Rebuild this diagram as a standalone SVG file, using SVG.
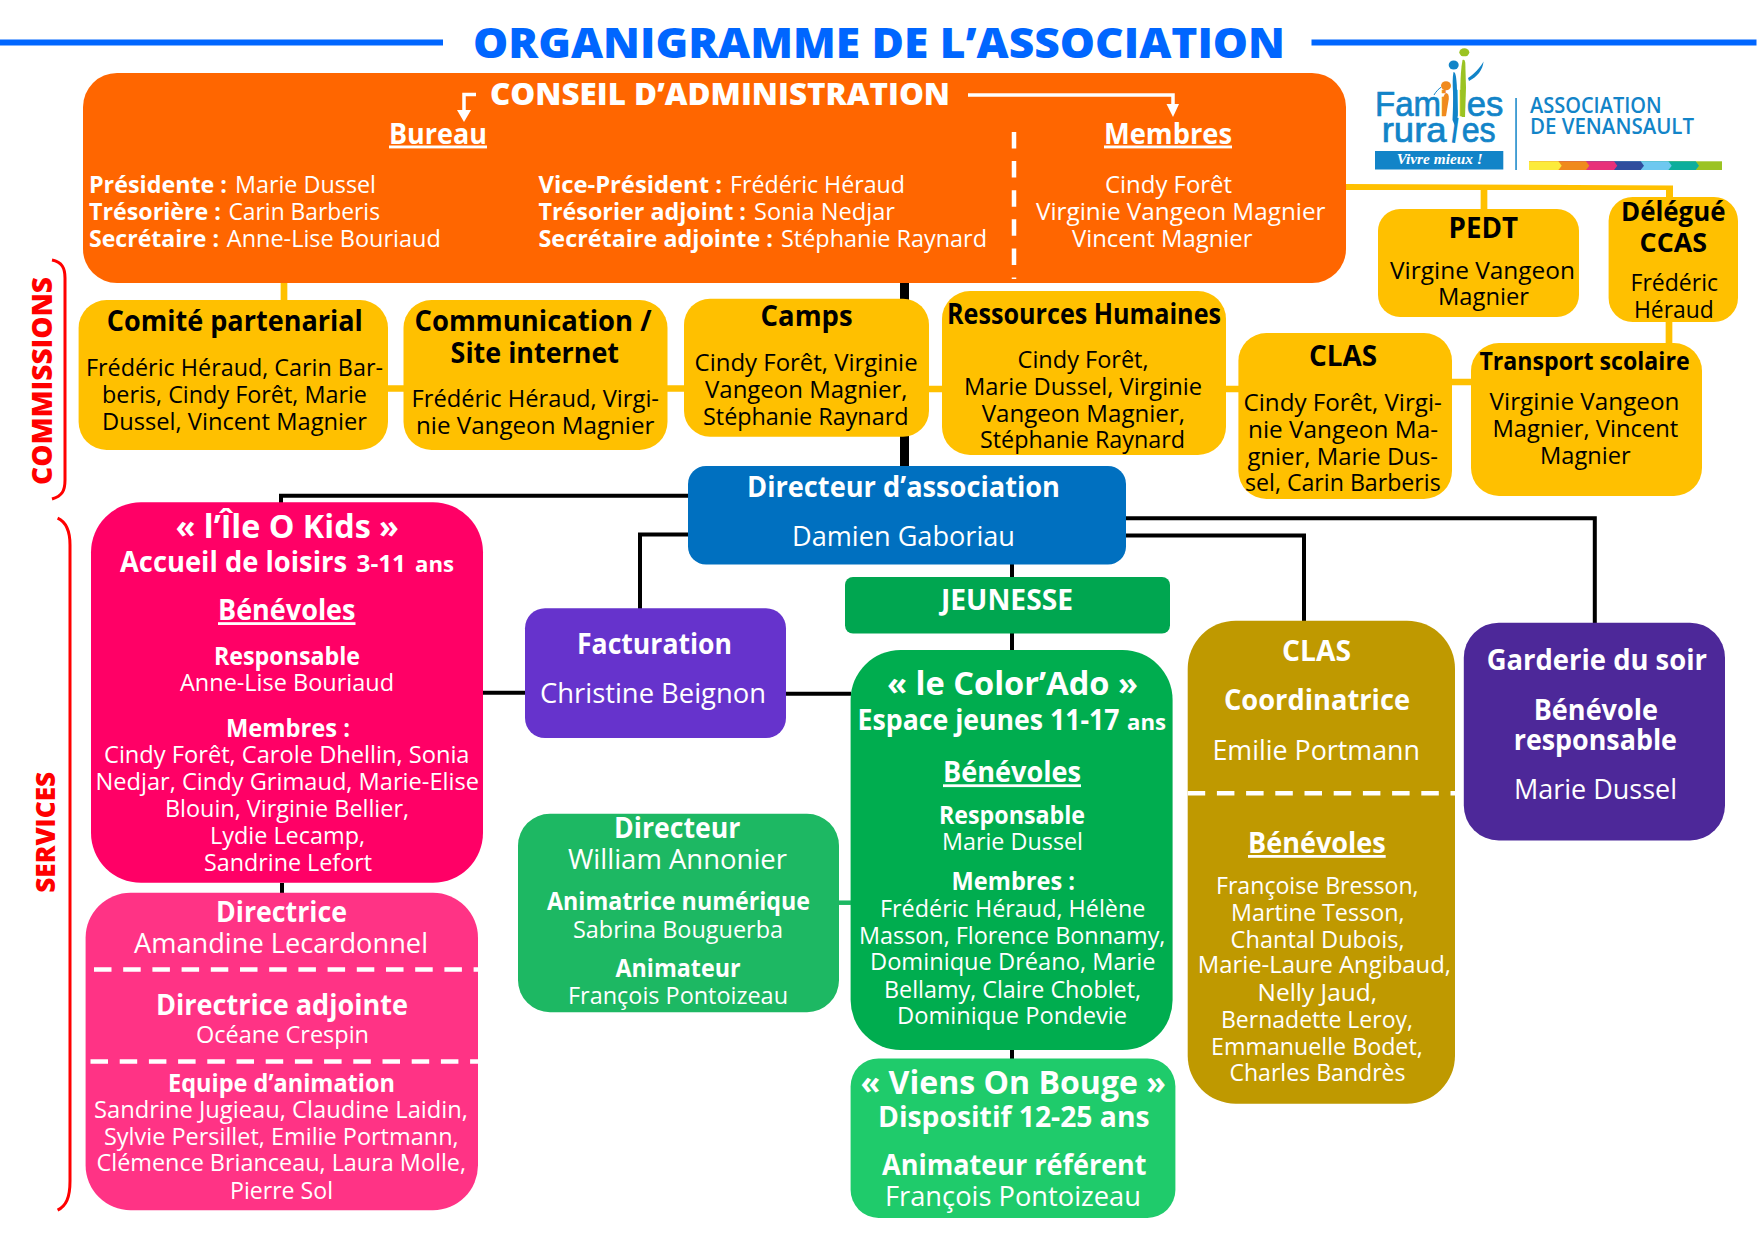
<svg xmlns="http://www.w3.org/2000/svg" width="1761" height="1240" viewBox="0 0 1761 1240">
<defs>
<style>
text{font-family:"Open Sans","Noto Sans",sans-serif;font-size:24px;font-weight:400;fill:#fff}
.b{font-weight:700}
.k text{fill:#000}
.t{font-size:28px}
.m{font-size:29px}
.s{font-size:25px}
.l{font-size:27px}
.u{text-decoration:underline}
.logo{font-family:"Liberation Sans",sans-serif;font-size:35px;font-weight:400;fill:#1284c8;stroke:#1284c8;stroke-width:.7}
.y{fill:none;stroke:#ffc000;stroke-width:6.7}
.n{fill:none;stroke:#000;stroke-width:4}
.wd{fill:none;stroke:#fff;stroke-width:4.5;stroke-dasharray:17.5 11.7}
.red{fill:none;stroke:#f00;stroke-width:3}
.ar{fill:none;stroke:#fff;stroke-width:3.5}
</style>
</defs>
<rect width="1761" height="1240" fill="#fff"/>
<g id="title">
<rect x="0" y="39.5" width="443" height="6" fill="#0066ff"/>
<rect x="1311.5" y="39.5" width="445" height="6" fill="#0066ff"/>
<text x="473" y="57.5" textLength="812" lengthAdjust="spacingAndGlyphs" style="font-size:42px;font-weight:800;fill:#0066ff">ORGANIGRAMME DE L’ASSOCIATION</text>
</g>
<g id="connectors">
<path class="y" d="M284 283V300M388 388.5H404M667 388.5H685M929 389H942M1226 389H1239M1452 382H1471M1669 322V343M1484 188V209"/>
<path d="M1346 184L1673 185.5V197H1666V190L1346 190Z" fill="#ffc000"/>
<path d="M904.5 283V466" class="n" style="stroke-width:9"/>
<path class="n" d="M688 495.8H281V503M688 534.6H640V609M483 692.8H525M786 693.8H851M282 883V893M1012 564V578M1012 633V651M1012 1050V1059M1126 518.2H1594.8V623M1126 535.6H1304V621"/>
<path d="M839 902.7H851" fill="none" stroke="#1db863" stroke-width="4.5"/>
</g>
<g id="commissions-label">
<text transform="translate(51.7 485) rotate(-90)" textLength="208" lengthAdjust="spacingAndGlyphs" style="font-size:28px;font-weight:800;fill:#f00">COMMISSIONS</text>
<path class="red" d="M52 260C62 262 65 268 65 278V480C65 491 62 496 52 499"/>
</g>
<g id="services-label">
<text transform="translate(54.5 892.8) rotate(-90)" textLength="121" lengthAdjust="spacingAndGlyphs" style="font-size:27px;font-weight:800;fill:#f00">SERVICES</text>
<path class="red" d="M57.6 518.2C66 522 70 530 70 545V1181C70 1198 66 1206 57.6 1210.2"/>
</g>
<g id="logo">
<text y="115.7"><tspan class="logo" x="1375" textLength="66" lengthAdjust="spacingAndGlyphs">Fam</tspan><tspan class="logo" x="1440" style="fill:#f08a1d;stroke:#f08a1d">i</tspan><tspan class="logo" x="1451.5">l</tspan><tspan class="logo" x="1458" style="fill:#9bc322;stroke:#9bc322">l</tspan><tspan class="logo" x="1466.7" textLength="36.6" lengthAdjust="spacingAndGlyphs">es</tspan></text>
<text y="142.3"><tspan class="logo" x="1381.7" textLength="65" lengthAdjust="spacingAndGlyphs">rura</tspan><tspan class="logo" x="1449.5" rotate="8" style="stroke-width:0">l</tspan><tspan class="logo" x="1461.7" textLength="34" lengthAdjust="spacingAndGlyphs">es</tspan></text>
<ellipse cx="1464.3" cy="52.3" rx="5" ry="4" fill="#9bc322"/>
<path d="M1462.5 60C1464 59 1465 60 1465.3 63L1466 88L1465 117L1461.7 117L1460.3 88C1460.5 78 1461 68 1462.5 60Z" fill="#9bc322"/>
<ellipse cx="1453.7" cy="65" rx="5" ry="4.5" fill="#1284c8"/>
<path d="M1453.5 72C1455.5 72 1456.3 76 1456.8 85L1457.8 112C1457.8 120 1456.5 124 1455 126L1452.5 120C1453 110 1453.3 100 1453 92C1452.6 84 1452.4 78 1453.5 72Z" fill="#1284c8"/>
<path d="M1483.5 61.5C1483 70 1477 77 1469 81L1468 78C1474 74 1480 68 1483.5 61.5Z" fill="#1284c8"/>
<ellipse cx="1446" cy="85.7" rx="5" ry="4.5" fill="#f08a1d"/>
<path d="M1446 93C1448 93 1449 95 1448.8 99L1446 116H1442.2L1442.6 103C1443 98 1444 94 1446 93Z" fill="#f08a1d"/>
<path d="M1434 95C1436 91.5 1438.5 89 1441 87.3" stroke="#1284c8" stroke-width="1" fill="none"/>
<rect x="1375" y="151" width="128.3" height="18.5" fill="#1284c8"/>
<text x="1396.7" y="164.3" textLength="86" lengthAdjust="spacingAndGlyphs" style="font-family:'Liberation Serif',serif;font-style:italic;font-weight:700;font-size:15px">Vivre mieux !</text>
<rect x="1515.3" y="98" width="1.5" height="72" fill="#1284c8"/>
<text x="1530" y="113.3" textLength="131.7" lengthAdjust="spacingAndGlyphs" style="font-size:21.5px;font-weight:600;fill:#1284c8">ASSOCIATION</text>
<text x="1530" y="134" textLength="164" lengthAdjust="spacingAndGlyphs" style="font-size:21.5px;font-weight:600;fill:#1284c8">DE VENANSAULT</text>
<rect x="1529" y="161.3" width="193" height="8.7" fill="#9bc322"/>
<path d="M1529 161.3H1695.7L1699 165.7L1695.7 170H1529Z" fill="#0cae9c"/>
<path d="M1529 161.3H1668.4L1671.7 165.7L1668.4 170H1529Z" fill="#6ec8f0"/>
<path d="M1529 161.3H1640.7L1644 165.7L1640.7 170H1529Z" fill="#2f4d9e"/>
<path d="M1529 161.3H1614L1617.3 165.7L1614 170H1529Z" fill="#e8307a"/>
<path d="M1529 161.3H1586L1589.3 165.7L1586 170H1529Z" fill="#f08a1d"/>
<path d="M1529 161.3H1558.4L1561.7 165.7L1558.4 170H1529Z" fill="#fceb3b"/>
</g>
<g id="conseil">
<rect x="83" y="73" width="1263" height="210" rx="34" fill="#ff6600"/>
<text x="490" y="105" textLength="460" lengthAdjust="spacingAndGlyphs" style="font-size:30px;font-weight:800">CONSEIL D’ADMINISTRATION</text>
<path class="ar" d="M476 94.5H464V110"/>
<path d="M457 110H471L464 122Z" fill="#fff"/>
<path class="ar" d="M968 95H1173V104"/>
<path d="M1166.5 104H1179L1173 117Z" fill="#fff"/>
<text class="b m u" x="389" y="143.5" textLength="98" lengthAdjust="spacingAndGlyphs">Bureau</text>
<text class="b m u" x="1104" y="143.5" textLength="128" lengthAdjust="spacingAndGlyphs">Membres</text>
<path class="wd" d="M1014 132V279" style="stroke-dasharray:16.5 12.6"/>
<text y="192.7"><tspan class="b" x="89" textLength="138" lengthAdjust="spacingAndGlyphs">Présidente :</tspan><tspan x="235" textLength="141" lengthAdjust="spacingAndGlyphs">Marie Dussel</tspan></text>
<text y="220"><tspan class="b" x="89" textLength="132" lengthAdjust="spacingAndGlyphs">Trésorière :</tspan><tspan x="228.5" textLength="151.5" lengthAdjust="spacingAndGlyphs">Carin Barberis</tspan></text>
<text y="246.7"><tspan class="b" x="89" textLength="130" lengthAdjust="spacingAndGlyphs">Secrétaire :</tspan><tspan x="226.8" textLength="214" lengthAdjust="spacingAndGlyphs">Anne-Lise Bouriaud</tspan></text>
<text y="192.7"><tspan class="b" x="538.5" textLength="183.5" lengthAdjust="spacingAndGlyphs">Vice-Président :</tspan><tspan x="730" textLength="175" lengthAdjust="spacingAndGlyphs">Frédéric Héraud</tspan></text>
<text y="220"><tspan class="b" x="538.5" textLength="207.5" lengthAdjust="spacingAndGlyphs">Trésorier adjoint :</tspan><tspan x="754" textLength="141" lengthAdjust="spacingAndGlyphs">Sonia Nedjar</tspan></text>
<text y="246.7"><tspan class="b" x="538.5" textLength="234.5" lengthAdjust="spacingAndGlyphs">Secrétaire adjointe :</tspan><tspan x="781" textLength="206" lengthAdjust="spacingAndGlyphs">Stéphanie Raynard</tspan></text>
<text x="1105" y="192.7" textLength="127" lengthAdjust="spacingAndGlyphs">Cindy Forêt</text>
<text x="1036" y="220" textLength="289.5" lengthAdjust="spacingAndGlyphs">Virginie Vangeon Magnier</text>
<text x="1072" y="246.7" textLength="180.5" lengthAdjust="spacingAndGlyphs">Vincent Magnier</text>
</g>
<g id="comite" class="k">
<rect x="78.6" y="300" width="309.4" height="150" rx="28" fill="#ffc000"/>
<text class="b t" x="106.8" y="331" textLength="256" lengthAdjust="spacingAndGlyphs">Comité partenarial</text>
<text x="86" y="375.7" textLength="297" lengthAdjust="spacingAndGlyphs">Frédéric Héraud, Carin Bar-</text>
<text x="102" y="402.7" textLength="265" lengthAdjust="spacingAndGlyphs">beris, Cindy Forêt, Marie</text>
<text x="102" y="430" textLength="265" lengthAdjust="spacingAndGlyphs">Dussel, Vincent Magnier</text>
</g>
<g id="communication" class="k">
<rect x="403.5" y="300" width="264" height="150" rx="28" fill="#ffc000"/>
<text class="b t" x="414.5" y="331" textLength="237" lengthAdjust="spacingAndGlyphs">Communication /</text>
<text class="b t" x="450.6" y="362.5" textLength="168.4" lengthAdjust="spacingAndGlyphs">Site internet</text>
<text x="411.6" y="406.7" textLength="247.4" lengthAdjust="spacingAndGlyphs">Frédéric Héraud, Virgi-</text>
<text x="416" y="434" textLength="238.4" lengthAdjust="spacingAndGlyphs">nie Vangeon Magnier</text>
</g>
<g id="camps" class="k">
<rect x="684" y="298.7" width="245" height="138" rx="26" fill="#ffc000"/>
<text class="b t" x="760.6" y="326" textLength="92" lengthAdjust="spacingAndGlyphs">Camps</text>
<text x="694.6" y="371" textLength="223" lengthAdjust="spacingAndGlyphs">Cindy Forêt, Virginie</text>
<text x="705" y="398" textLength="202.4" lengthAdjust="spacingAndGlyphs">Vangeon Magnier,</text>
<text x="703" y="425" textLength="205.5" lengthAdjust="spacingAndGlyphs">Stéphanie Raynard</text>
</g>
<g id="rh" class="k">
<rect x="942" y="291" width="284" height="164" rx="28" fill="#ffc000"/>
<text class="b t" x="947" y="323.7" textLength="274" lengthAdjust="spacingAndGlyphs">Ressources Humaines</text>
<text x="1017.6" y="367.7" textLength="131" lengthAdjust="spacingAndGlyphs">Cindy Forêt,</text>
<text x="964" y="395" textLength="238" lengthAdjust="spacingAndGlyphs">Marie Dussel, Virginie</text>
<text x="981.7" y="421.7" textLength="203.3" lengthAdjust="spacingAndGlyphs">Vangeon Magnier,</text>
<text x="980" y="448" textLength="205" lengthAdjust="spacingAndGlyphs">Stéphanie Raynard</text>
</g>
<g id="clas-commission" class="k">
<rect x="1238.4" y="333" width="213.6" height="166" rx="28" fill="#ffc000"/>
<text class="b t" x="1309" y="366" textLength="68" lengthAdjust="spacingAndGlyphs">CLAS</text>
<text x="1243.5" y="411" textLength="198.3" lengthAdjust="spacingAndGlyphs">Cindy Forêt, Virgi-</text>
<text x="1248" y="438" textLength="190" lengthAdjust="spacingAndGlyphs">nie Vangeon Ma-</text>
<text x="1247.4" y="465" textLength="190.6" lengthAdjust="spacingAndGlyphs">gnier, Marie Dus-</text>
<text x="1245" y="491" textLength="195.7" lengthAdjust="spacingAndGlyphs">sel, Carin Barberis</text>
</g>
<g id="transport" class="k">
<rect x="1471" y="343" width="231" height="153" rx="28" fill="#ffc000"/>
<text class="b s" x="1479.4" y="370" textLength="210.2" lengthAdjust="spacingAndGlyphs">Transport scolaire</text>
<text x="1489.6" y="410" textLength="189.8" lengthAdjust="spacingAndGlyphs">Virginie Vangeon</text>
<text x="1492.4" y="436.7" textLength="185.9" lengthAdjust="spacingAndGlyphs">Magnier, Vincent</text>
<text x="1540" y="464" textLength="90.6" lengthAdjust="spacingAndGlyphs">Magnier</text>
</g>
<g id="pedt" class="k">
<rect x="1378" y="209" width="201" height="108" rx="22" fill="#ffc000"/>
<text class="b t" x="1448.5" y="238" textLength="69.5" lengthAdjust="spacingAndGlyphs">PEDT</text>
<text x="1390" y="279.3" textLength="185" lengthAdjust="spacingAndGlyphs">Virgine Vangeon</text>
<text x="1438" y="305" textLength="91" lengthAdjust="spacingAndGlyphs">Magnier</text>
</g>
<g id="ccas" class="k">
<rect x="1608.6" y="197" width="129.4" height="125" rx="24" fill="#ffc000"/>
<text class="b" x="1621" y="221" textLength="104.5" lengthAdjust="spacingAndGlyphs" style="font-size:26px">Délégué</text>
<text class="b" x="1639.6" y="252" textLength="67.4" lengthAdjust="spacingAndGlyphs" style="font-size:26px">CCAS</text>
<text x="1630.6" y="291" textLength="87.4" lengthAdjust="spacingAndGlyphs">Frédéric</text>
<text x="1634" y="317.7" textLength="79.7" lengthAdjust="spacingAndGlyphs">Héraud</text>
</g>
<g id="directeur">
<rect x="688" y="466" width="438" height="98.5" rx="18" fill="#0070c0"/>
<text class="b t" x="747" y="496.5" textLength="313" lengthAdjust="spacingAndGlyphs">Directeur d’association</text>
<text class="l" x="792" y="546" textLength="223" lengthAdjust="spacingAndGlyphs">Damien Gaboriau</text>
</g>
<g id="ile-o-kids">
<rect x="91" y="502.3" width="392" height="380.5" rx="50" fill="#ff0066"/>
<text class="b" x="175.5" y="538.1" textLength="223.5" lengthAdjust="spacingAndGlyphs" style="font-size:32px">« l’Île O Kids »</text>
<text y="571.9"><tspan class="b t" x="120" textLength="227" lengthAdjust="spacingAndGlyphs">Accueil de loisirs</tspan><tspan class="b" x="356.5" textLength="49.5" lengthAdjust="spacingAndGlyphs" style="font-size:24px">3-11</tspan><tspan class="b" x="415" textLength="39" lengthAdjust="spacingAndGlyphs" style="font-size:22px">ans</tspan></text>
<text class="b t u" x="218" y="620.2" textLength="137.5" lengthAdjust="spacingAndGlyphs">Bénévoles</text>
<text class="b s" x="214" y="665.4" textLength="146" lengthAdjust="spacingAndGlyphs">Responsable</text>
<text x="180" y="691.3" textLength="214" lengthAdjust="spacingAndGlyphs">Anne-Lise Bouriaud</text>
<text class="b s" x="226" y="737.1" textLength="124" lengthAdjust="spacingAndGlyphs">Membres :</text>
<text x="104" y="763.4" textLength="365.5" lengthAdjust="spacingAndGlyphs">Cindy Forêt, Carole Dhellin, Sonia</text>
<text x="95.5" y="790.3" textLength="383.5" lengthAdjust="spacingAndGlyphs">Nedjar, Cindy Grimaud, Marie-Elise</text>
<text x="165" y="816.7" textLength="244" lengthAdjust="spacingAndGlyphs">Blouin, Virginie Bellier,</text>
<text x="210" y="844" textLength="155" lengthAdjust="spacingAndGlyphs">Lydie Lecamp,</text>
<text x="204" y="870.9" textLength="168" lengthAdjust="spacingAndGlyphs">Sandrine Lefort</text>
</g>
<g id="equipe-ile">
<rect x="85.6" y="892.8" width="392.4" height="317.4" rx="45" fill="#ff3385"/>
<text class="b t" x="216" y="921.6" textLength="131" lengthAdjust="spacingAndGlyphs">Directrice</text>
<text class="l" x="134" y="952.5" textLength="294" lengthAdjust="spacingAndGlyphs">Amandine Lecardonnel</text>
<path class="wd" d="M94 969.4H478"/>
<text class="b t" x="156" y="1015.2" textLength="252" lengthAdjust="spacingAndGlyphs">Directrice adjointe</text>
<text x="196" y="1043" textLength="173" lengthAdjust="spacingAndGlyphs">Océane Crespin</text>
<path class="wd" d="M90.5 1061.4H478"/>
<text class="b s" x="168" y="1091.8" textLength="227" lengthAdjust="spacingAndGlyphs">Equipe d’animation</text>
<text x="94" y="1118.1" textLength="374" lengthAdjust="spacingAndGlyphs">Sandrine  Jugieau, Claudine Laidin,</text>
<text x="104" y="1145" textLength="354.6" lengthAdjust="spacingAndGlyphs">Sylvie Persillet, Emilie Portmann,</text>
<text x="96.5" y="1171.4" textLength="369.5" lengthAdjust="spacingAndGlyphs">Clémence Brianceau, Laura Molle,</text>
<text x="230" y="1198.7" textLength="103" lengthAdjust="spacingAndGlyphs">Pierre Sol</text>
</g>
<g id="facturation">
<rect x="525" y="608.2" width="261" height="129.9" rx="20" fill="#6633cc"/>
<text class="b t" x="577" y="654" textLength="155" lengthAdjust="spacingAndGlyphs">Facturation</text>
<text class="l" x="540" y="702.8" textLength="226" lengthAdjust="spacingAndGlyphs">Christine Beignon</text>
</g>
<g id="directeur-jeunesse">
<rect x="518" y="813.7" width="321" height="198.5" rx="32" fill="#1db863"/>
<text class="b t" x="614" y="838" textLength="126.5" lengthAdjust="spacingAndGlyphs">Directeur</text>
<text class="l" x="568" y="868.9" textLength="219" lengthAdjust="spacingAndGlyphs">William Annonier</text>
<text class="b s" x="547" y="910.2" textLength="263" lengthAdjust="spacingAndGlyphs">Animatrice numérique</text>
<text x="573" y="937.6" textLength="210" lengthAdjust="spacingAndGlyphs">Sabrina Bouguerba</text>
<text class="b s" x="615.5" y="977.3" textLength="125" lengthAdjust="spacingAndGlyphs">Animateur</text>
<text x="568" y="1003.7" textLength="220" lengthAdjust="spacingAndGlyphs">François Pontoizeau</text>
</g>
<g id="jeunesse">
<rect x="845" y="576.9" width="325" height="56.7" rx="8" fill="#00a650"/>
<text class="b t" x="941" y="610.2" textLength="132" lengthAdjust="spacingAndGlyphs">JEUNESSE</text>
</g>
<g id="color-ado">
<rect x="850.6" y="650" width="322" height="400" rx="50" fill="#00ad4f"/>
<text class="b" x="887" y="695.3" textLength="251" lengthAdjust="spacingAndGlyphs" style="font-size:32px">« le Color’Ado »</text>
<text y="729.6"><tspan class="b t" x="857.6" textLength="262" lengthAdjust="spacingAndGlyphs">Espace jeunes 11-17</tspan><tspan class="b" x="1127" textLength="39" lengthAdjust="spacingAndGlyphs" style="font-size:22px">ans</tspan></text>
<text class="b t u" x="943" y="782.3" textLength="138" lengthAdjust="spacingAndGlyphs">Bénévoles</text>
<text class="b s" x="939" y="824.1" textLength="146" lengthAdjust="spacingAndGlyphs">Responsable</text>
<text x="942" y="849.5" textLength="141" lengthAdjust="spacingAndGlyphs">Marie Dussel</text>
<text class="b s" x="951.6" y="890.3" textLength="123.4" lengthAdjust="spacingAndGlyphs">Membres :</text>
<text x="880" y="916.7" textLength="265.4" lengthAdjust="spacingAndGlyphs">Frédéric Héraud, Hélène</text>
<text x="859" y="944" textLength="306.4" lengthAdjust="spacingAndGlyphs">Masson, Florence Bonnamy,</text>
<text x="870" y="970.4" textLength="285.4" lengthAdjust="spacingAndGlyphs">Dominique Dréano, Marie</text>
<text x="884" y="997.7" textLength="257" lengthAdjust="spacingAndGlyphs">Bellamy, Claire Choblet,</text>
<text x="897" y="1023.6" textLength="230" lengthAdjust="spacingAndGlyphs">Dominique Pondevie</text>
</g>
<g id="viens-on-bouge">
<rect x="850.6" y="1058.4" width="324.8" height="159.5" rx="28" fill="#1fcb6b"/>
<text class="b" x="860.5" y="1094.4" textLength="305.5" lengthAdjust="spacingAndGlyphs" style="font-size:32px">« Viens On Bouge »</text>
<text class="b t" x="878" y="1126.6" textLength="271.5" lengthAdjust="spacingAndGlyphs">Dispositif 12-25 ans</text>
<text class="b t" x="882" y="1175.3" textLength="264.6" lengthAdjust="spacingAndGlyphs">Animateur référent</text>
<text class="l" x="885" y="1206.2" textLength="256" lengthAdjust="spacingAndGlyphs">François Pontoizeau</text>
</g>
<g id="clas-service">
<rect x="1187.7" y="620.7" width="267.3" height="483" rx="48" fill="#bf9900"/>
<text class="b t" x="1282" y="660.7" textLength="69" lengthAdjust="spacingAndGlyphs">CLAS</text>
<text class="b t" x="1224" y="710.2" textLength="186" lengthAdjust="spacingAndGlyphs">Coordinatrice</text>
<text class="l" x="1212.4" y="760" textLength="207.6" lengthAdjust="spacingAndGlyphs">Emilie Portmann</text>
<path class="wd" d="M1187.7 793.3H1455"/>
<text class="b t u" x="1248" y="853" textLength="137.7" lengthAdjust="spacingAndGlyphs">Bénévoles</text>
<text x="1216" y="893.8" textLength="202.6" lengthAdjust="spacingAndGlyphs">Françoise Bresson,</text>
<text x="1231" y="920.6" textLength="173.5" lengthAdjust="spacingAndGlyphs">Martine Tesson,</text>
<text x="1230.6" y="947.5" textLength="173.9" lengthAdjust="spacingAndGlyphs">Chantal Dubois,</text>
<text x="1197.7" y="973.4" textLength="253.3" lengthAdjust="spacingAndGlyphs">Marie-Laure Angibaud,</text>
<text x="1257.6" y="1000.7" textLength="119.4" lengthAdjust="spacingAndGlyphs">Nelly Jaud,</text>
<text x="1221" y="1028.1" textLength="192" lengthAdjust="spacingAndGlyphs">Bernadette Leroy,</text>
<text x="1211" y="1055" textLength="211.7" lengthAdjust="spacingAndGlyphs">Emmanuelle Bodet,</text>
<text x="1229.4" y="1080.8" textLength="176.2" lengthAdjust="spacingAndGlyphs">Charles Bandrès</text>
</g>
<g id="garderie">
<rect x="1463.8" y="622.7" width="261.2" height="217.8" rx="35" fill="#4d2899"/>
<text class="b t" x="1486.7" y="669.9" textLength="220.3" lengthAdjust="spacingAndGlyphs">Garderie du soir</text>
<text class="b t" x="1533.7" y="719.7" textLength="124.3" lengthAdjust="spacingAndGlyphs">Bénévole</text>
<text class="b t" x="1513.7" y="750" textLength="163.3" lengthAdjust="spacingAndGlyphs">responsable</text>
<text class="l" x="1514" y="798.9" textLength="163" lengthAdjust="spacingAndGlyphs">Marie Dussel</text>
</g>
</svg>
